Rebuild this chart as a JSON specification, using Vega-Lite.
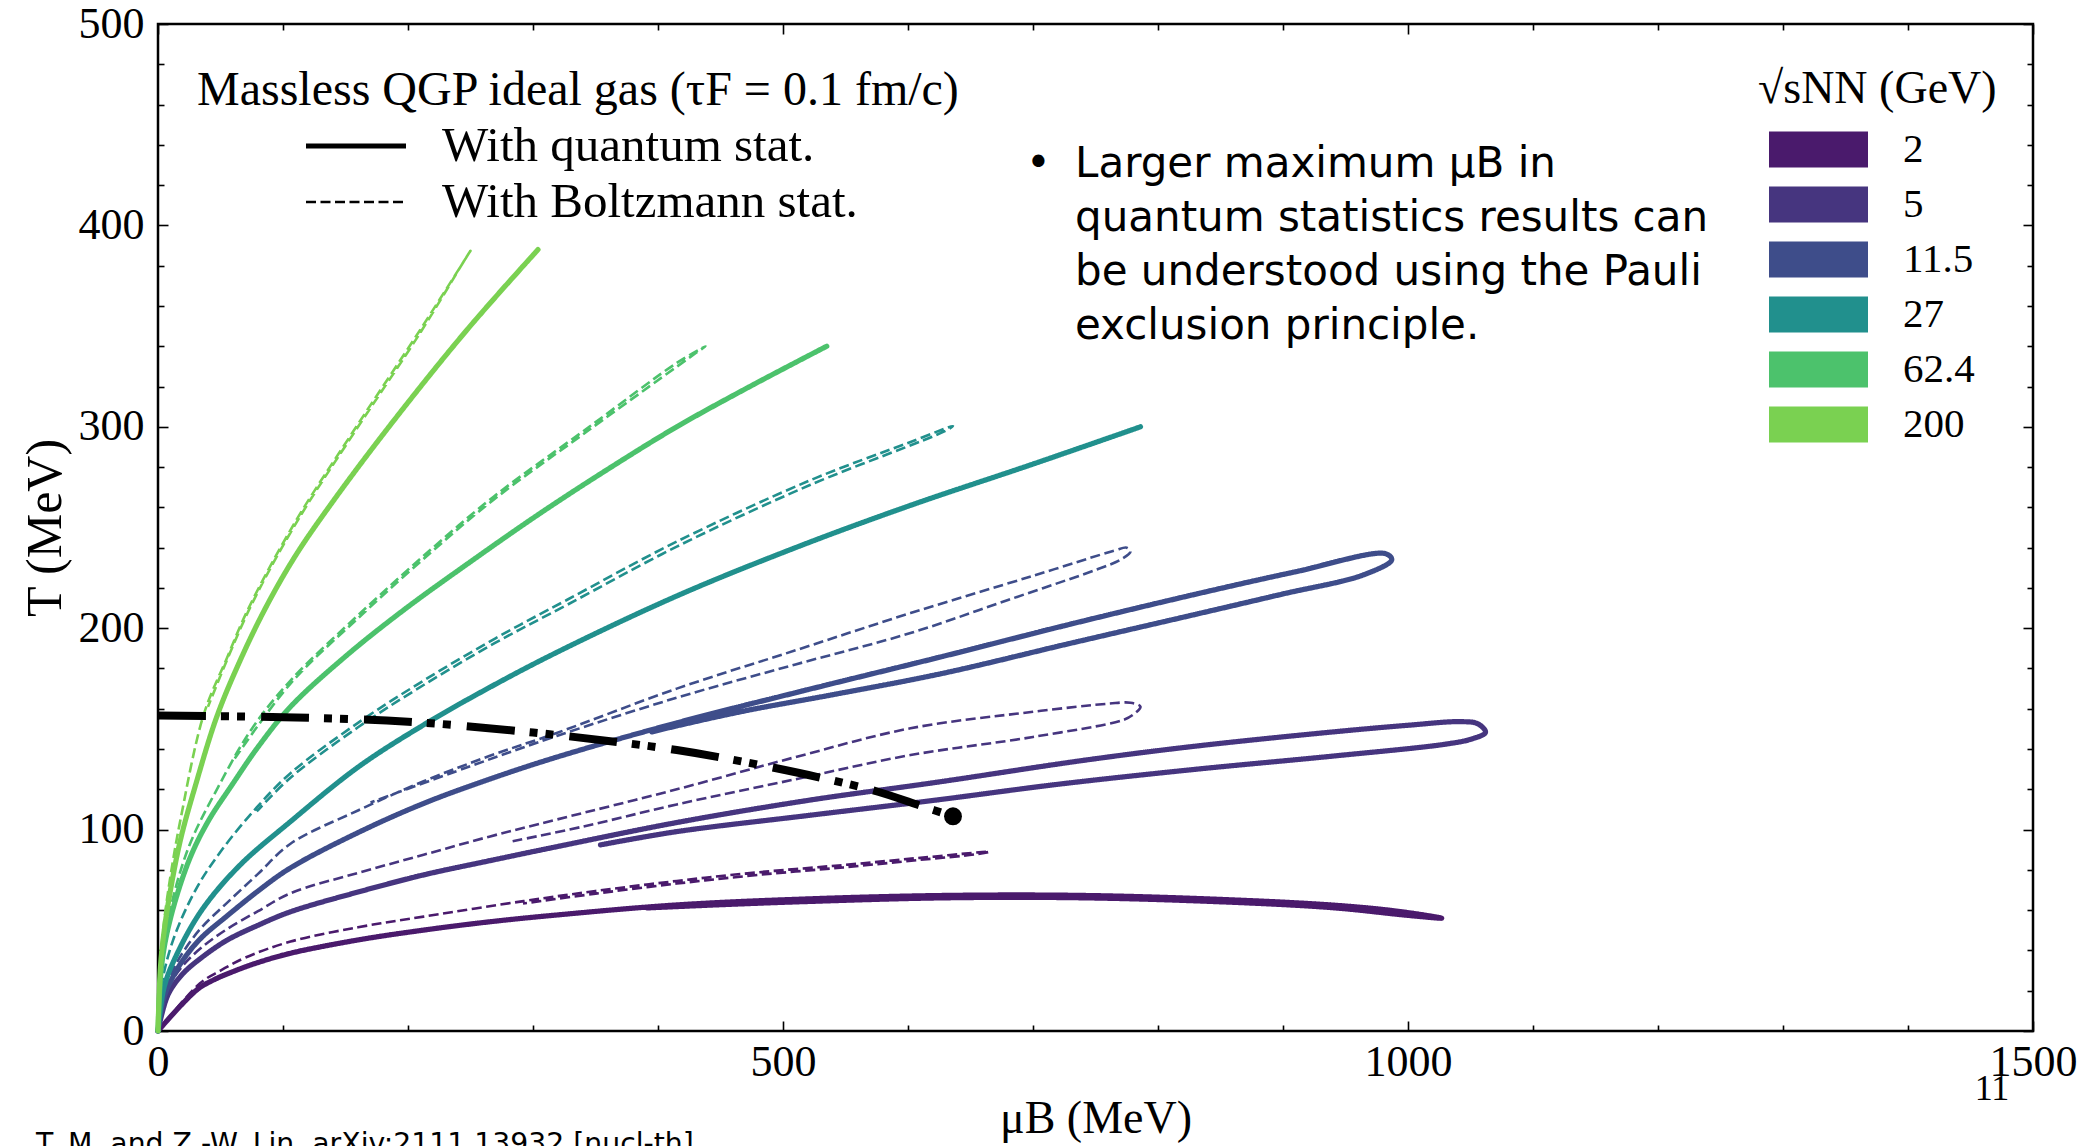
{
"$schema":"https://vega.github.io/schema/vega-lite/v6.json",
"width":1875,"height":1007,
"autosize":{"type":"none"},
"padding":{"left":158,"top":24,"right":54,"bottom":115},
"background":"white",
"config":{
 "view":{"stroke":"black","strokeWidth":2.5},
 "axis":{"grid":false,"domain":false,"tickColor":"black","labelColor":"black","labelFont":"Liberation Serif","labelFontSize":44,"titleFont":"Liberation Serif","titleFontSize":46,"titleFontWeight":"normal","titleColor":"black","labelFlush":false,"labelOverlap":false,"labelBound":false},
 "legend":{"padding":0,"titleLimit":2000,"labelLimit":2000}
},
"datasets":{
"curves":[
{"s":"2","k":"Q","i":0,"mu":0,"T":0},{"s":"2","k":"Q","i":1,"mu":31,"T":20.4},{"s":"2","k":"Q","i":2,"mu":45,"T":25.5},{"s":"2","k":"Q","i":3,"mu":60,"T":29.5},{"s":"2","k":"Q","i":4,"mu":80,"T":34},{"s":"2","k":"Q","i":5,"mu":106,"T":38.6},{"s":"2","k":"Q","i":6,"mu":160,"T":45.2},{"s":"2","k":"Q","i":7,"mu":212.5,"T":50.1},{"s":"2","k":"Q","i":8,"mu":265,"T":54.2},{"s":"2","k":"Q","i":9,"mu":319,"T":57.6},{"s":"2","k":"Q","i":10,"mu":415,"T":62.6},{"s":"2","k":"Q","i":11,"mu":520,"T":65.6},{"s":"2","k":"Q","i":12,"mu":628,"T":67.3},{"s":"2","k":"Q","i":13,"mu":730,"T":67.4},{"s":"2","k":"Q","i":14,"mu":831,"T":65.8},{"s":"2","k":"Q","i":15,"mu":938,"T":62.6},{"s":"2","k":"Q","i":16,"mu":990,"T":59.6},{"s":"2","k":"Q","i":17,"mu":1027,"T":56},{"s":"2","k":"Q","i":18,"mu":1000,"T":57.4},{"s":"2","k":"Q","i":19,"mu":938,"T":61.3},{"s":"2","k":"Q","i":20,"mu":831,"T":64.6},{"s":"2","k":"Q","i":21,"mu":730,"T":66.2},{"s":"2","k":"Q","i":22,"mu":628,"T":66.1},{"s":"2","k":"Q","i":23,"mu":520,"T":64.3},{"s":"2","k":"Q","i":24,"mu":450,"T":62.7},{"s":"2","k":"Q","i":25,"mu":391,"T":61.1},
{"s":"2","k":"B","i":0,"mu":0,"T":0},{"s":"2","k":"B","i":1,"mu":33.6,"T":23.7},{"s":"2","k":"B","i":2,"mu":50,"T":30},{"s":"2","k":"B","i":3,"mu":70,"T":36.5},{"s":"2","k":"B","i":4,"mu":106,"T":44.4},{"s":"2","k":"B","i":5,"mu":160,"T":51.5},{"s":"2","k":"B","i":6,"mu":212.5,"T":56.8},{"s":"2","k":"B","i":7,"mu":292.5,"T":64.5},{"s":"2","k":"B","i":8,"mu":350,"T":69.5},{"s":"2","k":"B","i":9,"mu":415,"T":74.5},{"s":"2","k":"B","i":10,"mu":480,"T":78.8},{"s":"2","k":"B","i":11,"mu":548,"T":82.4},{"s":"2","k":"B","i":12,"mu":610,"T":86},{"s":"2","k":"B","i":13,"mu":665,"T":89},{"s":"2","k":"B","i":14,"mu":655,"T":87.8},{"s":"2","k":"B","i":15,"mu":610,"T":85},{"s":"2","k":"B","i":16,"mu":548,"T":81.2},{"s":"2","k":"B","i":17,"mu":480,"T":77.5},{"s":"2","k":"B","i":18,"mu":415,"T":73.2},{"s":"2","k":"B","i":19,"mu":350,"T":68.2},{"s":"2","k":"B","i":20,"mu":292,"T":63.3},
{"s":"5","k":"Q","i":0,"mu":0,"T":0},{"s":"5","k":"Q","i":1,"mu":8,"T":18},{"s":"5","k":"Q","i":2,"mu":20,"T":28.5},{"s":"5","k":"Q","i":3,"mu":35,"T":36.5},{"s":"5","k":"Q","i":4,"mu":55,"T":45},{"s":"5","k":"Q","i":5,"mu":80,"T":52.5},{"s":"5","k":"Q","i":6,"mu":106,"T":59.2},{"s":"5","k":"Q","i":7,"mu":160,"T":69},{"s":"5","k":"Q","i":8,"mu":212.5,"T":77.5},{"s":"5","k":"Q","i":9,"mu":265,"T":84.5},{"s":"5","k":"Q","i":10,"mu":319,"T":91.5},{"s":"5","k":"Q","i":11,"mu":415,"T":103.5},{"s":"5","k":"Q","i":12,"mu":520,"T":114.5},{"s":"5","k":"Q","i":13,"mu":623,"T":123.5},{"s":"5","k":"Q","i":14,"mu":743,"T":134.6},{"s":"5","k":"Q","i":15,"mu":831,"T":141.5},{"s":"5","k":"Q","i":16,"mu":940,"T":148.5},{"s":"5","k":"Q","i":17,"mu":1000,"T":151.8},{"s":"5","k":"Q","i":18,"mu":1042,"T":153.6},{"s":"5","k":"Q","i":19,"mu":1056,"T":152.5},{"s":"5","k":"Q","i":20,"mu":1062,"T":148.3},{"s":"5","k":"Q","i":21,"mu":1051,"T":145},{"s":"5","k":"Q","i":22,"mu":1031,"T":142.5},{"s":"5","k":"Q","i":23,"mu":940,"T":136.5},{"s":"5","k":"Q","i":24,"mu":831,"T":130},{"s":"5","k":"Q","i":25,"mu":720,"T":122.5},{"s":"5","k":"Q","i":26,"mu":623,"T":114.7},{"s":"5","k":"Q","i":27,"mu":520,"T":107},{"s":"5","k":"Q","i":28,"mu":415,"T":99},{"s":"5","k":"Q","i":29,"mu":354,"T":92.4},
{"s":"5","k":"B","i":0,"mu":0,"T":0},{"s":"5","k":"B","i":1,"mu":8,"T":21},{"s":"5","k":"B","i":2,"mu":20,"T":32.5},{"s":"5","k":"B","i":3,"mu":35,"T":41.5},{"s":"5","k":"B","i":4,"mu":55,"T":50.5},{"s":"5","k":"B","i":5,"mu":80,"T":59.5},{"s":"5","k":"B","i":6,"mu":106,"T":68.4},{"s":"5","k":"B","i":7,"mu":160,"T":78.5},{"s":"5","k":"B","i":8,"mu":212.5,"T":87.5},{"s":"5","k":"B","i":9,"mu":265,"T":96.5},{"s":"5","k":"B","i":10,"mu":319,"T":105},{"s":"5","k":"B","i":11,"mu":415,"T":120},{"s":"5","k":"B","i":12,"mu":510,"T":136},{"s":"5","k":"B","i":13,"mu":602,"T":150.3},{"s":"5","k":"B","i":14,"mu":700,"T":158.5},{"s":"5","k":"B","i":15,"mu":760,"T":162.5},{"s":"5","k":"B","i":16,"mu":778,"T":163},{"s":"5","k":"B","i":17,"mu":786,"T":161},{"s":"5","k":"B","i":18,"mu":780,"T":157},{"s":"5","k":"B","i":19,"mu":772,"T":154.4},{"s":"5","k":"B","i":20,"mu":700,"T":146},{"s":"5","k":"B","i":21,"mu":602,"T":137},{"s":"5","k":"B","i":22,"mu":510,"T":125},{"s":"5","k":"B","i":23,"mu":415,"T":112.5},{"s":"5","k":"B","i":24,"mu":340,"T":101.5},{"s":"5","k":"B","i":25,"mu":282,"T":94},
{"s":"11.5","k":"Q","i":0,"mu":0,"T":0},{"s":"11.5","k":"Q","i":1,"mu":5,"T":17},{"s":"11.5","k":"Q","i":2,"mu":12,"T":27},{"s":"11.5","k":"Q","i":3,"mu":22,"T":37},{"s":"11.5","k":"Q","i":4,"mu":35,"T":46.5},{"s":"11.5","k":"Q","i":5,"mu":55,"T":57},{"s":"11.5","k":"Q","i":6,"mu":80,"T":69.5},{"s":"11.5","k":"Q","i":7,"mu":106,"T":81},{"s":"11.5","k":"Q","i":8,"mu":160,"T":98.5},{"s":"11.5","k":"Q","i":9,"mu":212.5,"T":113},{"s":"11.5","k":"Q","i":10,"mu":265,"T":125},{"s":"11.5","k":"Q","i":11,"mu":319,"T":136},{"s":"11.5","k":"Q","i":12,"mu":415,"T":153},{"s":"11.5","k":"Q","i":13,"mu":520,"T":169.5},{"s":"11.5","k":"Q","i":14,"mu":628,"T":186},{"s":"11.5","k":"Q","i":15,"mu":730,"T":202},{"s":"11.5","k":"Q","i":16,"mu":831,"T":217},{"s":"11.5","k":"Q","i":17,"mu":910,"T":228},{"s":"11.5","k":"Q","i":18,"mu":982,"T":237},{"s":"11.5","k":"Q","i":19,"mu":987,"T":234},{"s":"11.5","k":"Q","i":20,"mu":964,"T":226.4},{"s":"11.5","k":"Q","i":21,"mu":900,"T":217},{"s":"11.5","k":"Q","i":22,"mu":831,"T":207},{"s":"11.5","k":"Q","i":23,"mu":730,"T":192.5},{"s":"11.5","k":"Q","i":24,"mu":628,"T":177.6},{"s":"11.5","k":"Q","i":25,"mu":540,"T":167},{"s":"11.5","k":"Q","i":26,"mu":470,"T":159},{"s":"11.5","k":"Q","i":27,"mu":415,"T":151.5},{"s":"11.5","k":"Q","i":28,"mu":395,"T":148.5},
{"s":"11.5","k":"B","i":0,"mu":0,"T":0},{"s":"11.5","k":"B","i":1,"mu":5,"T":20},{"s":"11.5","k":"B","i":2,"mu":12,"T":30.5},{"s":"11.5","k":"B","i":3,"mu":22,"T":41},{"s":"11.5","k":"B","i":4,"mu":35,"T":51.5},{"s":"11.5","k":"B","i":5,"mu":55,"T":63.5},{"s":"11.5","k":"B","i":6,"mu":80,"T":78},{"s":"11.5","k":"B","i":7,"mu":106,"T":93},{"s":"11.5","k":"B","i":8,"mu":160,"T":109.5},{"s":"11.5","k":"B","i":9,"mu":212.5,"T":124},{"s":"11.5","k":"B","i":10,"mu":265,"T":136.5},{"s":"11.5","k":"B","i":11,"mu":319,"T":148},{"s":"11.5","k":"B","i":12,"mu":415,"T":170},{"s":"11.5","k":"B","i":13,"mu":510,"T":189},{"s":"11.5","k":"B","i":14,"mu":602,"T":207.5},{"s":"11.5","k":"B","i":15,"mu":700,"T":226},{"s":"11.5","k":"B","i":16,"mu":765,"T":238.5},{"s":"11.5","k":"B","i":17,"mu":775,"T":240},{"s":"11.5","k":"B","i":18,"mu":778,"T":238},{"s":"11.5","k":"B","i":19,"mu":770,"T":234},{"s":"11.5","k":"B","i":20,"mu":757,"T":230.5},{"s":"11.5","k":"B","i":21,"mu":680,"T":214},{"s":"11.5","k":"B","i":22,"mu":602,"T":197.6},{"s":"11.5","k":"B","i":23,"mu":510,"T":182},{"s":"11.5","k":"B","i":24,"mu":415,"T":165.5},{"s":"11.5","k":"B","i":25,"mu":319,"T":146.5},{"s":"11.5","k":"B","i":26,"mu":250,"T":131.5},{"s":"11.5","k":"B","i":27,"mu":170,"T":113.5},
{"s":"27","k":"Q","i":0,"mu":0,"T":0},{"s":"27","k":"Q","i":1,"mu":5,"T":22},{"s":"27","k":"Q","i":2,"mu":15,"T":38},{"s":"27","k":"Q","i":3,"mu":35,"T":60},{"s":"27","k":"Q","i":4,"mu":65,"T":82},{"s":"27","k":"Q","i":5,"mu":106,"T":104},{"s":"27","k":"Q","i":6,"mu":160,"T":131},{"s":"27","k":"Q","i":7,"mu":212.5,"T":152},{"s":"27","k":"Q","i":8,"mu":265,"T":170.5},{"s":"27","k":"Q","i":9,"mu":319,"T":188},{"s":"27","k":"Q","i":10,"mu":415,"T":216},{"s":"27","k":"Q","i":11,"mu":510,"T":240},{"s":"27","k":"Q","i":12,"mu":602,"T":261},{"s":"27","k":"Q","i":13,"mu":700,"T":281.5},{"s":"27","k":"Q","i":14,"mu":786,"T":300},
{"s":"27","k":"B","i":0,"mu":0,"T":0},{"s":"27","k":"B","i":1,"mu":3,"T":23},{"s":"27","k":"B","i":2,"mu":12,"T":45},{"s":"27","k":"B","i":3,"mu":30,"T":70},{"s":"27","k":"B","i":4,"mu":50,"T":89},{"s":"27","k":"B","i":5,"mu":79,"T":111},{"s":"27","k":"B","i":6,"mu":106,"T":128},{"s":"27","k":"B","i":7,"mu":160,"T":153},{"s":"27","k":"B","i":8,"mu":212.5,"T":174},{"s":"27","k":"B","i":9,"mu":270,"T":195},{"s":"27","k":"B","i":10,"mu":327,"T":214},{"s":"27","k":"B","i":11,"mu":415,"T":243},{"s":"27","k":"B","i":12,"mu":522,"T":273.5},{"s":"27","k":"B","i":13,"mu":600,"T":292},{"s":"27","k":"B","i":14,"mu":636,"T":300.4},{"s":"27","k":"B","i":15,"mu":630,"T":298},{"s":"27","k":"B","i":16,"mu":522,"T":271.2},{"s":"27","k":"B","i":17,"mu":415,"T":240.5},{"s":"27","k":"B","i":18,"mu":327,"T":211.5},{"s":"27","k":"B","i":19,"mu":270,"T":192.8},{"s":"27","k":"B","i":20,"mu":212.5,"T":171.8},{"s":"27","k":"B","i":21,"mu":160,"T":150.8},{"s":"27","k":"B","i":22,"mu":106,"T":125.8},{"s":"27","k":"B","i":23,"mu":79,"T":109},
{"s":"62.4","k":"Q","i":0,"mu":0,"T":0},{"s":"62.4","k":"Q","i":1,"mu":3,"T":33},{"s":"62.4","k":"Q","i":2,"mu":10,"T":56},{"s":"62.4","k":"Q","i":3,"mu":25,"T":85},{"s":"62.4","k":"Q","i":4,"mu":40,"T":104},{"s":"62.4","k":"Q","i":5,"mu":59,"T":122},{"s":"62.4","k":"Q","i":6,"mu":80,"T":141},{"s":"62.4","k":"Q","i":7,"mu":106,"T":161},{"s":"62.4","k":"Q","i":8,"mu":150,"T":186},{"s":"62.4","k":"Q","i":9,"mu":196.5,"T":209},{"s":"62.4","k":"Q","i":10,"mu":250,"T":233},{"s":"62.4","k":"Q","i":11,"mu":305.6,"T":257},{"s":"62.4","k":"Q","i":12,"mu":360,"T":279},{"s":"62.4","k":"Q","i":13,"mu":415,"T":300},{"s":"62.4","k":"Q","i":14,"mu":475,"T":320.5},{"s":"62.4","k":"Q","i":15,"mu":535,"T":340},
{"s":"62.4","k":"B","i":0,"mu":0,"T":0},{"s":"62.4","k":"B","i":1,"mu":3,"T":36},{"s":"62.4","k":"B","i":2,"mu":10,"T":61},{"s":"62.4","k":"B","i":3,"mu":25,"T":92},{"s":"62.4","k":"B","i":4,"mu":48,"T":121},{"s":"62.4","k":"B","i":5,"mu":75,"T":150},{"s":"62.4","k":"B","i":6,"mu":106,"T":174},{"s":"62.4","k":"B","i":7,"mu":164.5,"T":209},{"s":"62.4","k":"B","i":8,"mu":220,"T":240},{"s":"62.4","k":"B","i":9,"mu":268.5,"T":265.3},{"s":"62.4","k":"B","i":10,"mu":345,"T":300},{"s":"62.4","k":"B","i":11,"mu":415,"T":331.7},{"s":"62.4","k":"B","i":12,"mu":438,"T":340},{"s":"62.4","k":"B","i":13,"mu":430,"T":336.5},{"s":"62.4","k":"B","i":14,"mu":345,"T":298.5},{"s":"62.4","k":"B","i":15,"mu":268.5,"T":263.8},{"s":"62.4","k":"B","i":16,"mu":220,"T":238.5},{"s":"62.4","k":"B","i":17,"mu":164.5,"T":207.5},{"s":"62.4","k":"B","i":18,"mu":106,"T":172.5},{"s":"62.4","k":"B","i":19,"mu":60,"T":134},
{"s":"200","k":"Q","i":0,"mu":0,"T":0},{"s":"200","k":"Q","i":1,"mu":2,"T":32},{"s":"200","k":"Q","i":2,"mu":5,"T":50},{"s":"200","k":"Q","i":3,"mu":10,"T":70},{"s":"200","k":"Q","i":4,"mu":18,"T":95},{"s":"200","k":"Q","i":5,"mu":30,"T":122},{"s":"200","k":"Q","i":6,"mu":47,"T":156},{"s":"200","k":"Q","i":7,"mu":65,"T":183},{"s":"200","k":"Q","i":8,"mu":86,"T":210},{"s":"200","k":"Q","i":9,"mu":110,"T":236},{"s":"200","k":"Q","i":10,"mu":140,"T":263},{"s":"200","k":"Q","i":11,"mu":186,"T":301},{"s":"200","k":"Q","i":12,"mu":247,"T":348},{"s":"200","k":"Q","i":13,"mu":304,"T":388},
{"s":"200","k":"B","i":0,"mu":0,"T":0},{"s":"200","k":"B","i":1,"mu":2,"T":35},{"s":"200","k":"B","i":2,"mu":5,"T":55},{"s":"200","k":"B","i":3,"mu":10,"T":77},{"s":"200","k":"B","i":4,"mu":18,"T":105},{"s":"200","k":"B","i":5,"mu":36.5,"T":157},{"s":"200","k":"B","i":6,"mu":55,"T":185},{"s":"200","k":"B","i":7,"mu":72.5,"T":210},{"s":"200","k":"B","i":8,"mu":110,"T":253},{"s":"200","k":"B","i":9,"mu":156.5,"T":298},{"s":"200","k":"B","i":10,"mu":209.6,"T":348},{"s":"200","k":"B","i":11,"mu":250,"T":387.4},{"s":"200","k":"B","i":12,"mu":246,"T":383.5},{"s":"200","k":"B","i":13,"mu":209.6,"T":346.5},{"s":"200","k":"B","i":14,"mu":156.5,"T":296.7},{"s":"200","k":"B","i":15,"mu":110,"T":251.7},{"s":"200","k":"B","i":16,"mu":72.5,"T":208.7},{"s":"200","k":"B","i":17,"mu":40,"T":161}
],
"crit":[
{"i":0,"mu":0,"T":156.6},{"i":1,"mu":100,"T":155.8},{"i":2,"mu":200,"T":153.6},{"i":3,"mu":300,"T":148.2},{"i":4,"mu":367,"T":143.5},{"i":5,"mu":415,"T":139.5},{"i":6,"mu":470,"T":133.5},{"i":7,"mu":532,"T":125.5},{"i":8,"mu":576,"T":118.8},{"i":9,"mu":612,"T":111.4},{"i":10,"mu":636,"T":106.6}
],
"cp":[{"mu":636,"T":106.6}]
},
"layer":[
{
 "data":{"name":"curves"},
 "transform":[{"filter":"datum.k === 'B'"}],
 "mark":{"type":"line","strokeCap":"butt","strokeJoin":"round","interpolate":"catmull-rom"},
 "encoding":{
  "x":{"field":"mu","type":"quantitative","scale":{"domain":[0,1500],"nice":false,"zero":false},
   "axis":{"orient":"bottom","values":[0,100,200,300,400,500,600,700,800,900,1000,1100,1200,1300,1400,1500],"format":"d","labelExpr":"datum.value % 500 === 0 ? datum.label : ''","tickSize":{"condition":{"test":"datum.value % 500 === 0","value":-10},"value":-6},"tickWidth":1.6,"labelPadding":19,"title":"μB (MeV)","titlePadding":8}},
  "y":{"field":"T","type":"quantitative","scale":{"domain":[0,500],"nice":false,"zero":false},
   "axis":{"orient":"left","values":[0,20,40,60,80,100,120,140,160,180,200,220,240,260,280,300,320,340,360,380,400,420,440,460,480,500],"format":"d","labelExpr":"datum.value % 100 === 0 ? datum.label : ''","tickSize":{"condition":{"test":"datum.value % 100 === 0","value":-10},"value":-6},"tickWidth":1.6,"labelPadding":24,"title":"T (MeV)","titleFontSize":50,"titlePadding":8}},
  "color":{"field":"s","type":"nominal","scale":{"domain":["2","5","11.5","27","62.4","200"],"range":["#4a1a6c","#46357f","#3e4d8a","#21908d","#4cc26c","#7ad151"]},
   "legend":{"orient":"none","legendX":1600,"legendY":43,"title":"√sNN (GeV)","titleFont":"Liberation Serif","titleFontSize":46,"titleFontWeight":"normal","titleColor":"black","titlePadding":16,"labelFont":"Liberation Serif","labelFontSize":41,"labelColor":"black","symbolType":"M-1,-0.364H1V0.364H-1Z","symbolSize":9801,"symbolOffset":11,"labelOffset":35,"clipHeight":41,"rowPadding":13,"symbolStrokeWidth":0,
    "encode":{"symbols":{"update":{"fill":{"scale":"color","field":"value"},"fillOpacity":{"value":1},"opacity":{"value":1},"strokeWidth":{"value":0}}}}}},
  "strokeDash":{"field":"k","type":"nominal","scale":{"domain":["Q","B"],"range":[[1,0],[10,4.5]]},
   "legend":{"orient":"none","legendX":39,"legendY":43,"title":"Massless QGP ideal gas (τF = 0.1 fm/c)","titleFont":"Liberation Serif","titleFontSize":48,"titleFontWeight":"normal","titleColor":"black","titlePadding":8,"labelFont":"Liberation Serif","labelFontSize":49,"labelColor":"black","labelExpr":"datum.value === 'Q' ? 'With quantum stat.' : 'With Boltzmann stat.'","symbolType":"stroke","symbolSize":10000,"symbolStrokeColor":"black","symbolOffset":106,"labelOffset":33,"clipHeight":46,"rowPadding":7}},
  "strokeWidth":{"field":"k","type":"nominal","scale":{"domain":["Q","B"],"range":[5.2,2.6]},
   "legend":{"orient":"none","legendX":39,"legendY":43,"title":"Massless QGP ideal gas (τF = 0.1 fm/c)","titleFont":"Liberation Serif","titleFontSize":48,"titleFontWeight":"normal","titleColor":"black","titlePadding":8,"labelFont":"Liberation Serif","labelFontSize":49,"labelColor":"black","labelExpr":"datum.value === 'Q' ? 'With quantum stat.' : 'With Boltzmann stat.'","symbolType":"stroke","symbolSize":10000,"symbolStrokeColor":"black","symbolOffset":106,"labelOffset":33,"clipHeight":46,"rowPadding":7}},
  "order":{"field":"i","type":"quantitative"}
 }
},
{
 "data":{"name":"curves"},
 "transform":[{"filter":"datum.k === 'Q'"}],
 "mark":{"type":"line","strokeCap":"round","strokeJoin":"round","interpolate":"catmull-rom"},
 "encoding":{
  "x":{"field":"mu","type":"quantitative","axis":null},
  "y":{"field":"T","type":"quantitative","axis":null},
  "color":{"field":"s","type":"nominal"},
  "strokeDash":{"field":"k","type":"nominal"},
  "strokeWidth":{"field":"k","type":"nominal"},
  "order":{"field":"i","type":"quantitative"}
 }
},
{
 "data":{"name":"crit"},
 "mark":{"type":"line","color":"black","strokeWidth":8,"strokeDash":[48,15,8,8,8,16],"strokeCap":"butt","interpolate":"catmull-rom"},
 "encoding":{
  "x":{"field":"mu","type":"quantitative","axis":{"orient":"top","values":[0,100,200,300,400,500,600,700,800,900,1000,1100,1200,1300,1400,1500],"labels":false,"title":null,"tickSize":{"condition":{"test":"datum.value % 500 === 0","value":-10},"value":-6},"tickWidth":1.6}},
  "y":{"field":"T","type":"quantitative","axis":{"orient":"right","values":[0,20,40,60,80,100,120,140,160,180,200,220,240,260,280,300,320,340,360,380,400,420,440,460,480,500],"labels":false,"title":null,"tickSize":{"condition":{"test":"datum.value % 100 === 0","value":-10},"value":-6},"tickWidth":1.6}},
  "order":{"field":"i","type":"quantitative"}
 }
},
{
 "data":{"name":"cp"},
 "mark":{"type":"point","filled":true,"color":"black","size":320,"opacity":1},
 "encoding":{
  "x":{"field":"mu","type":"quantitative","axis":null},
  "y":{"field":"T","type":"quantitative","axis":null}
 }
},
{
 "data":{"values":[{}]},
 "mark":{"type":"text","font":"DejaVu Sans","fontSize":42,"align":"left","baseline":"top","lineHeight":54,"color":"black"},
 "encoding":{
  "x":{"datum":733.6,"type":"quantitative","axis":null},
  "y":{"datum":440.4,"type":"quantitative","axis":null},
  "text":{"value":["Larger maximum μB in","quantum statistics results can","be understood using the Pauli","exclusion principle."]}
 }
},
{
 "data":{"values":[{}]},
 "mark":{"type":"text","font":"DejaVu Sans","fontSize":42,"align":"left","baseline":"top","color":"black"},
 "encoding":{
  "x":{"datum":694.4,"type":"quantitative","axis":null},
  "y":{"datum":440.4,"type":"quantitative","axis":null},
  "text":{"value":"•"}
 }
},
{
 "data":{"values":[{}]},
 "mark":{"type":"text","font":"DejaVu Sans","fontSize":28.3,"align":"left","baseline":"top","color":"black"},
 "encoding":{
  "x":{"datum":-97.6,"type":"quantitative","axis":null},
  "y":{"datum":-49.85,"type":"quantitative","axis":null},
  "text":{"value":"T. M. and Z.-W. Lin, arXiv:2111.13932 [nucl-th]"}
 }
},
{
 "data":{"values":[{}]},
 "mark":{"type":"text","font":"Liberation Serif","fontSize":36,"align":"center","baseline":"alphabetic","color":"black"},
 "encoding":{
  "x":{"datum":1467.2,"type":"quantitative","axis":null},
  "y":{"datum":-34.3,"type":"quantitative","axis":null},
  "text":{"value":"11"}
 }
}
],
"resolve":{"axis":{"x":"independent","y":"independent"}}
}
